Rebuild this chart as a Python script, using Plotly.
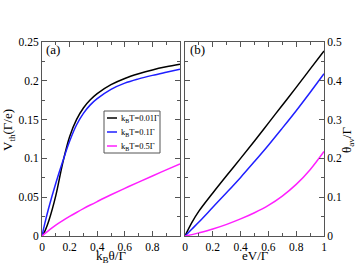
import plotly.graph_objects as go

# ---- data ----
theta = [0, 0.02, 0.05, 0.1, 0.15, 0.2, 0.25, 0.3, 0.35, 0.4, 0.5, 0.6, 0.7, 0.8, 0.9, 1.0]
vth_T001 = [0, 0.006, 0.020, 0.052, 0.094, 0.128, 0.150, 0.165, 0.1755, 0.1835, 0.195, 0.203, 0.209, 0.214, 0.218, 0.2213]
vth_T01 = [0, 0.016, 0.037, 0.068, 0.096, 0.122, 0.143, 0.158, 0.169, 0.177, 0.189, 0.197, 0.2025, 0.207, 0.211, 0.2149]
vth_T05 = [0, 0.0030, 0.0073, 0.0140, 0.0198, 0.0252, 0.0303, 0.0352, 0.0399, 0.0444, 0.0531, 0.0614, 0.0695, 0.0774, 0.0852, 0.0930]

ev = [0, 0.05, 0.1, 0.2, 0.3, 0.4, 0.5, 0.6, 0.7, 0.8, 0.9, 1.0]
th_T001 = [0, 0.035, 0.064, 0.111, 0.156, 0.200, 0.245, 0.291, 0.337, 0.383, 0.430, 0.477]
th_T01 = [0, 0.018, 0.036, 0.074, 0.112, 0.151, 0.192, 0.234, 0.278, 0.323, 0.370, 0.418]
th_T05 = [0, 0.0035, 0.008, 0.018, 0.030, 0.044, 0.060, 0.079, 0.103, 0.133, 0.171, 0.218]

names = ["k<sub>B</sub>T=0.01Γ", "k<sub>B</sub>T=0.1Γ", "k<sub>B</sub>T=0.5Γ"]
colors = ["black", "#1f1fff", "#ff1fff"]

xticks_a = [0, 0.2, 0.4, 0.6, 0.8]
xticks_b = [0, 0.2, 0.4, 0.6, 0.8, 1]
xticktext_b = ["0", "0.2", "0.4", "0.6", "0.8", "1"]
yticks_a = [0, 0.05, 0.1, 0.15, 0.2, 0.25]
yticktext_a = ["0", "0.05", "0.1", "0.15", "0.2", "0.25"]
yticks_b = [0, 0.1, 0.2, 0.3, 0.4, 0.5]
yticktext_b = ["0", "0.1", "0.2", "0.3", "0.4", "0.5"]

W, H = 359, 278
FONT = "Liberation Serif"
AX = "#555555"
L, R, T, B = 42, 35, 42, 42
pw = W - L - R
ph = H - T - B

fig = go.Figure()
for ys, c, n in zip([vth_T001, vth_T01, vth_T05], colors, names):
    fig.add_trace(go.Scatter(x=theta, y=ys, mode="lines",
                             line=dict(color=c, width=1.5, shape="spline", smoothing=1),
                             name=n, showlegend=False, xaxis="x", yaxis="y"))
for ys, c, n in zip([th_T001, th_T01, th_T05], colors, names):
    fig.add_trace(go.Scatter(x=ev, y=ys, mode="lines",
                             line=dict(color=c, width=1.5, shape="spline", smoothing=1),
                             name=n, showlegend=False, xaxis="x2", yaxis="y2"))

common = dict(showgrid=False, zeroline=False, showline=True, linecolor=AX, linewidth=1,
              mirror="ticks", ticks="inside", ticklen=5, tickcolor=AX, tickwidth=1,
              tickfont=dict(family=FONT, size=11.5, color="black"), automargin=False)

fig.update_layout(
    width=W, height=H, margin=dict(l=L, r=R, t=T, b=B),
    paper_bgcolor="white", plot_bgcolor="white",
    font=dict(family=FONT, size=13, color="black"),
    xaxis=dict(common, domain=[0, (180 - L) / pw], range=[0, 1], tickvals=xticks_a,
               minor=dict(ticks="inside", ticklen=3, dtick=0.1, tickcolor=AX)),
    yaxis=dict(common, range=[0, 0.25], tickvals=yticks_a, ticktext=yticktext_a,
               minor=dict(ticks="inside", ticklen=3, dtick=0.025, tickcolor=AX)),
    xaxis2=dict(common, domain=[(185 - L) / pw, 1], range=[0, 1], tickvals=xticks_b,
                ticktext=xticktext_b, anchor="y2",
                minor=dict(ticks="inside", ticklen=3, dtick=0.1, tickcolor=AX)),
    yaxis2=dict(common, range=[0, 0.5], tickvals=yticks_b, ticktext=yticktext_b,
                anchor="x2", side="right",
                minor=dict(ticks="inside", ticklen=3, dtick=0.05, tickcolor=AX)),
)


def px(x):
    return (x - L) / pw


def py(y):
    return (H - B - y) / ph


def label(text, x, y, size=13, angle=0, anchor="center"):
    fig.add_annotation(text=text, x=px(x), y=py(y), xref="paper", yref="paper",
                       xanchor=anchor, yanchor="middle", showarrow=False,
                       textangle=angle, font=dict(size=size))


# axis titles
label("k<sub>B</sub>θ/Γ", 111, 256)
label("eV/Γ", 255, 255)
label("V<sub>th</sub>(Γ/e)", 8, 130, angle=-90)
label("θ<sub>av</sub>/Γ", 347, 140, angle=-90)

# panel labels
label("(a)", 44, 50, anchor="left")
label("(b)", 188, 50, anchor="left")

# legend box drawn by hand (compact, as in the reference)
fig.add_shape(type="rect", xref="paper", yref="paper", x0=px(104), x1=px(160), y0=py(153), y1=py(111),
              line=dict(color=AX, width=1), fillcolor="white", layer="above")
for i, (c, n) in enumerate(zip(colors, names)):
    yy = 118 + 14 * i
    fig.add_shape(type="line", xref="paper", yref="paper", x0=px(107), x1=px(117), y0=py(yy), y1=py(yy),
                  line=dict(color=c, width=1.5), layer="above")
    label(n, 119, yy, size=8.5, anchor="left")

fig.write_html("out.html", config={"displayModeBar": False},
               post_script="document.body.style.margin='0px';")
